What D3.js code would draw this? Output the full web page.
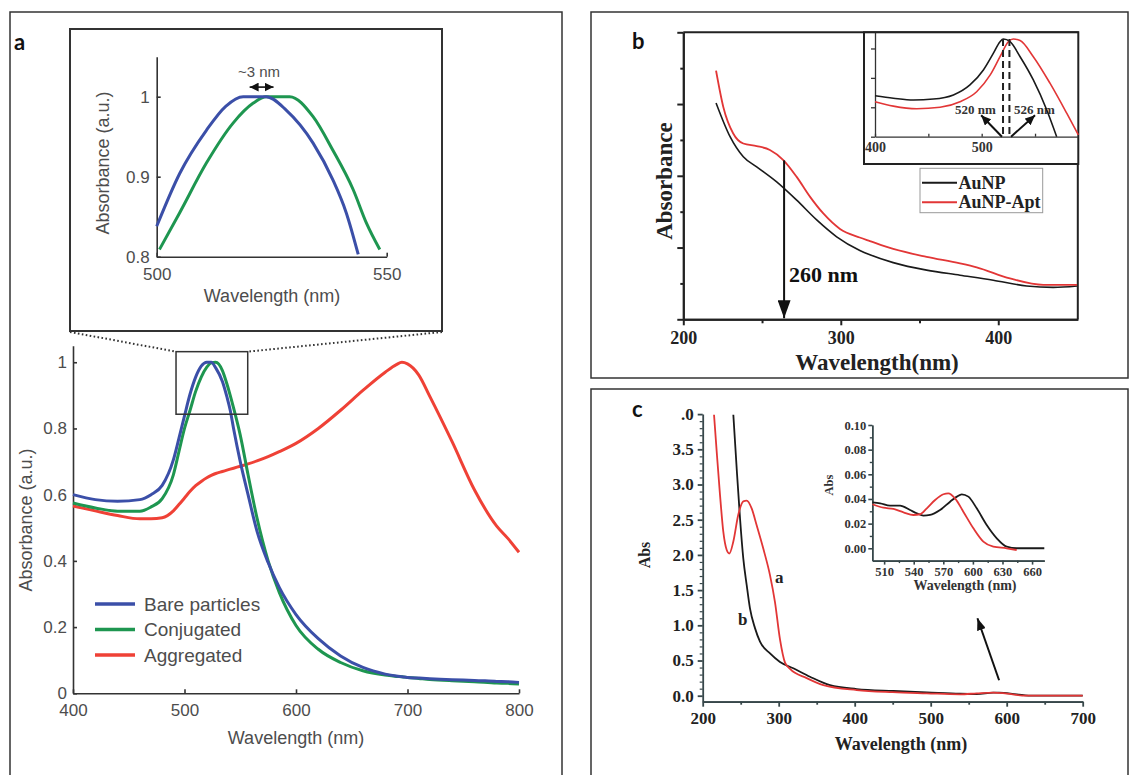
<!DOCTYPE html>
<html>
<head>
<meta charset="utf-8">
<script src="https://cdn.jsdelivr.net/npm/d3@7"></script>
<style>
  body { margin: 0; background: #fff; }
  svg { display: block; }
</style>
</head>
<body>
<svg id="fig" width="1131" height="775"></svg>
<script>
// ---------- panel a: main spectra ----------
var aWavelength = [400, 420, 440, 460, 470, 480, 490, 495, 500, 505, 510, 515, 520, 524, 528, 534, 538, 541, 544, 550,
  557, 565, 575, 585, 600, 620, 640, 660, 680, 690, 695, 700, 710, 720, 740, 760, 780, 790, 800];
var aBare = [0.600, 0.585, 0.580, 0.585, 0.600, 0.628, 0.705, 0.770, 0.838, 0.904, 0.955, 0.988, 1.000, 1.000, 0.983, 0.942, 0.896, 0.855, 0.800, 0.700,
  0.600, 0.490, 0.395, 0.320, 0.238, 0.165, 0.113, 0.078, 0.058, 0.052, 0.050, 0.048, 0.046, 0.044, 0.041, 0.039, 0.036, 0.035, 0.033];
var aConjugated = [0.575, 0.560, 0.550, 0.550, 0.563, 0.588, 0.660, 0.730, 0.800, 0.855, 0.912, 0.955, 0.985, 0.998, 1.000, 0.975, 0.935, 0.900, 0.862, 0.780,
  0.660, 0.530, 0.400, 0.305, 0.205, 0.133, 0.093, 0.068, 0.055, 0.051, 0.050, 0.048, 0.045, 0.042, 0.038, 0.035, 0.031, 0.030, 0.028];
var aAggregated = [0.566, 0.551, 0.537, 0.527, 0.527, 0.530, 0.551, 0.570, 0.590, 0.610, 0.627, 0.640, 0.651, 0.658, 0.664, 0.670, 0.674, 0.677, 0.680, 0.686,
  0.693, 0.702, 0.715, 0.730, 0.755, 0.800, 0.855, 0.915, 0.970, 0.993, 1.000, 0.995, 0.962, 0.897, 0.760, 0.615, 0.505, 0.468, 0.426];
var aLegend = ['Bare particles', 'Conjugated', 'Aggregated'];

// panel a: zoomed inset (500-550 nm)
var aInsetBareWl = [500, 505, 510.8, 515, 518.8, 523.8, 528.2, 534, 538.3, 541.2, 543.8];
var aInsetBare = [0.838, 0.904, 0.958, 0.988, 1.0, 1.0, 0.983, 0.942, 0.896, 0.855, 0.803];
var aInsetConjWl = [500.6, 505, 510.8, 516.6, 521, 523.8, 528.9, 534, 538.3, 542.7, 545.6, 548.5];
var aInsetConj = [0.809, 0.855, 0.917, 0.967, 0.992, 1.0, 1.0, 0.975, 0.933, 0.884, 0.842, 0.809];

// ---------- panel b ----------
var bAuNPWl = [220.8, 229.7, 238.1, 246.6, 259.3, 272, 284.7, 297.4, 312.1, 318.5, 333.3, 354.5, 375.7, 396.8, 418, 434.9, 450];
var bAuNP = [0.603, 0.509, 0.453, 0.425, 0.383, 0.332, 0.277, 0.230, 0.192, 0.180, 0.158, 0.137, 0.123, 0.109, 0.093, 0.089, 0.093];
var bAptWl = [220.8, 225.4, 231.7, 238.1, 246.6, 255, 263.5, 272, 280.4, 288.9, 299.5, 312, 318.5, 333.3, 354.5, 375.7, 386.3, 407.4, 428.6, 450];
var bApt = [0.693, 0.592, 0.518, 0.490, 0.483, 0.472, 0.444, 0.397, 0.342, 0.295, 0.252, 0.228, 0.218, 0.196, 0.174, 0.156, 0.145, 0.114, 0.096, 0.096];
var bLegend = ['AuNP', 'AuNP-Apt'];
// panel b inset
var bInsetAuNPWl = [400, 417.2, 436, 454.7, 473.5, 489, 501.6, 511, 517.2, 520.3, 526.6, 536, 548.4, 561, 570.3];
var bInsetAuNP = [0.139, 0.131, 0.125, 0.128, 0.142, 0.176, 0.227, 0.284, 0.323, 0.332, 0.323, 0.272, 0.193, 0.091, 0.0];
var bInsetAptWl = [400, 417.2, 439.1, 461, 479.7, 495.3, 508, 517.2, 525, 529.6, 536, 548.4, 564, 579.7, 590.6];
var bInsetApt = [0.119, 0.104, 0.095, 0.100, 0.119, 0.153, 0.210, 0.272, 0.323, 0.332, 0.327, 0.272, 0.182, 0.080, 0.006];
var bPeaks = [520, 526];

// ---------- panel c ----------
var cAWl = [214.9, 218.4, 222.8, 227.1, 231.6, 235, 240.3, 246.8, 253.4, 257.9, 264.4, 271, 279.7, 288.6, 295.1, 301.7, 308.3, 314.9,
  336.8, 358.7, 402.6, 450, 494.7, 538.6, 560.5, 582.4, 600, 626.3, 652.6, 700];
var cA = [3.99, 3.47, 2.85, 2.33, 2.07, 2.02, 2.19, 2.57, 2.76, 2.77, 2.66, 2.42, 2.09, 1.71, 1.33, 0.80, 0.47, 0.38,
  0.25, 0.15, 0.08, 0.05, 0.034, 0.02, 0.034, 0.045, 0.03, 0.0, 0.0, 0.0];
var cBWl = [240.3, 244.7, 249.1, 253.4, 257.9, 262.2, 268.8, 275.4, 288.6, 301.7, 319.2, 341.2, 367.5, 402.6, 450.8, 494.7, 538.6, 560.5,
  582.4, 590, 613.2, 635, 700];
var cB = [3.99, 3.23, 2.52, 1.95, 1.57, 1.24, 0.96, 0.77, 0.60, 0.48, 0.39, 0.27, 0.15, 0.095, 0.067, 0.048, 0.028, 0.024,
  0.045, 0.045, 0.02, 0.0, 0.0];
// panel c inset
var cInsetBWl = [498.1, 506, 516, 526.2, 536.3, 543.1, 549.8, 556.6, 566.7, 576.9, 583.7, 588.7, 595.4, 603.9, 614, 624.2, 634.3, 644.4, 672.4];
var cInsetB = [0.0373, 0.0365, 0.0346, 0.0346, 0.0310, 0.0284, 0.0265, 0.0270, 0.0310, 0.0378, 0.0419, 0.0438, 0.0419, 0.0324, 0.0189, 0.0081, 0.0013, 0, 0];
var cInsetAWl = [498.1, 509.3, 519.4, 529.6, 539.7, 546.5, 553.3, 561.7, 570.1, 575.1, 581.9, 590.3, 600.5, 610.6, 620.7, 634.3, 644.4];
var cInsetA = [0.0357, 0.0329, 0.0319, 0.0292, 0.0270, 0.0276, 0.0324, 0.0392, 0.0438, 0.0446, 0.0405, 0.0297, 0.0162, 0.0054, 0.0013, 0, -0.0014];

var SANS = '"Liberation Sans", Arial, sans-serif',
  SERIF = '"Liberation Serif", "Times New Roman", serif',
  LABEL = 'Lato, "Open Sans", sans-serif';

var blue = '#3b4fa8', green = '#1e9650', redA = '#ef4136', redB = '#e23636', black = '#1a1a1a';

var svg = d3.select('#fig');
var defs = svg.append('defs');

function marker(id, len, wid, color) {
  defs.append('marker').attr('id', id)
    .attr('viewBox', '0 0 10 10').attr('refX', 10).attr('refY', 5)
    .attr('markerWidth', len).attr('markerHeight', wid)
    .attr('markerUnits', 'userSpaceOnUse')
    .attr('preserveAspectRatio', 'none')
    .attr('orient', 'auto-start-reverse')
    .append('path').attr('d', 'M0,0 L10,5 L0,10 Z').attr('fill', color);
}
marker('arrA', 9, 9, '#111');
marker('arrB', 18, 13, '#111');
marker('arrBs', 10, 9, '#111');
marker('arrC', 12, 9, '#111');

function series(g, xs, ys, sx, sy, color, width) {
  var pts = xs.map(function (x, i) { return [x, ys[i]]; });
  g.append('path')
    .datum(pts)
    .attr('fill', 'none')
    .attr('stroke', color)
    .attr('stroke-width', width)
    .attr('stroke-linejoin', 'round')
    .attr('d', d3.line()
      .x(function (d) { return sx(d[0]); })
      .y(function (d) { return sy(d[1]); })
      .curve(d3.curveMonotoneX));
}

function styleAxis(g, color, width, family, size, fill, weight) {
  g.attr('font-family', family).attr('font-size', size);
  g.select('.domain').attr('stroke', color).attr('stroke-width', width);
  g.selectAll('.tick line').attr('stroke', color).attr('stroke-width', width);
  g.selectAll('.tick text').attr('fill', fill).attr('font-weight', weight || 'normal');
}

function text(g, x, y, str, opts) {
  var t = g.append('text').attr('x', x).attr('y', y).text(str)
    .attr('font-family', opts.family).attr('font-size', opts.size)
    .attr('fill', opts.fill || '#111')
    .attr('font-weight', opts.weight || 'normal')
    .attr('text-anchor', opts.anchor || 'start');
  if (opts.rotate) t.attr('transform', 'rotate(-90,' + x + ',' + y + ')');
  return t;
}

// ================= PANEL A =================
var pa = svg.append('g');
pa.append('rect').attr('x', 10).attr('y', 12).attr('width', 552).attr('height', 800)
  .attr('fill', 'none').attr('stroke', '#333').attr('stroke-width', 1.5);
text(pa, 14, 50, 'a', { family: LABEL, size: 22, weight: 'bold' });

var ax = d3.scaleLinear().domain([400, 800]).range([73, 519]);
var ay = d3.scaleLinear().domain([0, 1.05]).range([693.3, 345.7]);
var grey = '#4d4d4d';

var axX = pa.append('g').attr('transform', 'translate(0,' + ay(0) + ')')
  .call(d3.axisBottom(ax).tickValues([400, 500, 600, 700, 800]).tickSizeInner(-4).tickSizeOuter(0).tickPadding(11));
styleAxis(axX, '#333', 1.6, SANS, 17, grey);
var axY = pa.append('g').attr('transform', 'translate(' + ax(400) + ',0)')
  .call(d3.axisLeft(ay).tickValues([0, 0.2, 0.4, 0.6, 0.8, 1]).tickFormat(d3.format('~g')).tickSizeInner(-4).tickSizeOuter(0).tickPadding(6));
styleAxis(axY, '#333', 1.6, SANS, 17, grey);
text(pa, 296, 744, 'Wavelength (nm)', { family: SANS, size: 18, fill: grey, anchor: 'middle' });
text(pa, 32, 520, 'Absorbance (a.u.)', { family: SANS, size: 18, fill: grey, anchor: 'middle', rotate: true });

series(pa, aWavelength, aAggregated, ax, ay, redA, 3);
series(pa, aWavelength, aConjugated, ax, ay, green, 3);
series(pa, aWavelength, aBare, ax, ay, blue, 3);

// zoom box + dotted connectors
var box = { x0: 492.4, x1: 556.7, y0: 0.843, y1: 1.032 };
pa.append('rect').attr('x', ax(box.x0)).attr('y', ay(box.y1))
  .attr('width', ax(box.x1) - ax(box.x0)).attr('height', ay(box.y0) - ay(box.y1))
  .attr('fill', 'none').attr('stroke', '#333').attr('stroke-width', 1.5);
[[70, ax(box.x0)], [442, ax(box.x1)]].forEach(function (p) {
  pa.append('line').attr('x1', p[0]).attr('y1', 332).attr('x2', p[1]).attr('y2', ay(box.y1))
    .attr('stroke', '#333').attr('stroke-width', 2).attr('stroke-dasharray', '1.6,2.4');
});

// legend
var legColors = [blue, green, redA];
aLegend.forEach(function (name, i) {
  var y = 604 + i * 25.5;
  pa.append('line').attr('x1', 95).attr('x2', 135).attr('y1', y).attr('y2', y)
    .attr('stroke', legColors[i]).attr('stroke-width', 3.5);
  text(pa, 144, y + 6.5, name, { family: SANS, size: 19, fill: grey });
});

// inset
var ia = svg.append('g');
ia.append('rect').attr('x', 70).attr('y', 29).attr('width', 372).attr('height', 302)
  .attr('fill', '#fff').attr('stroke', '#333').attr('stroke-width', 2);
var ix = d3.scaleLinear().domain([500, 550]).range([156.7, 386.7]);
var iy = d3.scaleLinear().domain([0.8, 1.05]).range([256.7, 56.7]);
var iX = ia.append('g').attr('transform', 'translate(0,' + iy(0.8) + ')')
  .call(d3.axisBottom(ix).tickValues([500, 550]).tickSizeInner(-4).tickSizeOuter(0).tickPadding(11));
styleAxis(iX, '#333', 1.6, SANS, 17, grey);
var iY = ia.append('g').attr('transform', 'translate(' + ix(500) + ',0)')
  .call(d3.axisLeft(iy).tickValues([0.8, 0.9, 1]).tickFormat(d3.format('~g')).tickSizeInner(-4).tickSizeOuter(0).tickPadding(7));
styleAxis(iY, '#333', 1.6, SANS, 17, grey);
text(ia, 272, 302, 'Wavelength (nm)', { family: SANS, size: 18, fill: grey, anchor: 'middle' });
text(ia, 109, 163, 'Absorbance (a.u.)', { family: SANS, size: 18, fill: grey, anchor: 'middle', rotate: true });
series(ia, aInsetConjWl, aInsetConj, ix, iy, green, 3);
series(ia, aInsetBareWl, aInsetBare, ix, iy, blue, 3);
ia.append('line').attr('x1', ix(520.2)).attr('x2', ix(525.4)).attr('y1', iy(1.012)).attr('y2', iy(1.012))
  .attr('stroke', '#111').attr('stroke-width', 1.6)
  .attr('marker-start', 'url(#arrA)').attr('marker-end', 'url(#arrA)');
text(ia, 259, 77, '~3 nm', { family: SANS, size: 15, fill: grey, anchor: 'middle' });

// ================= PANEL B =================
var pb = svg.append('g');
pb.append('rect').attr('x', 591).attr('y', 12).attr('width', 537).attr('height', 366)
  .attr('fill', 'none').attr('stroke', '#333').attr('stroke-width', 1.5);
text(pb, 632, 49, 'b', { family: LABEL, size: 22, weight: 'bold' });

var bx = d3.scaleLinear().domain([200, 450.5]).range([683.3, 1077.8]);
var by = d3.scaleLinear().domain([0, 0.8]).range([319.3, 32.3]);
var bXa = pb.append('g').attr('transform', 'translate(0,' + by(0) + ')')
  .call(d3.axisBottom(bx).tickValues([200, 300, 400]).tickSizeInner(6).tickSizeOuter(0).tickPadding(6));
styleAxis(bXa, '#222', 2, SERIF, 18, '#222', 'bold');
var bXm = pb.append('g').attr('transform', 'translate(0,' + by(0) + ')')
  .call(d3.axisBottom(bx).tickValues([250, 350]).tickSizeInner(4).tickSizeOuter(0).tickFormat(''));
styleAxis(bXm, '#222', 2, SERIF, 18, '#222');
var bYa = pb.append('g').attr('transform', 'translate(' + bx(200) + ',0)')
  .call(d3.axisLeft(by).tickValues([0, 0.2, 0.4, 0.6, 0.8]).tickSizeInner(6).tickSizeOuter(0).tickFormat(''));
styleAxis(bYa, '#222', 2, SERIF, 18, '#222');
var bYm = pb.append('g').attr('transform', 'translate(' + bx(200) + ',0)')
  .call(d3.axisLeft(by).tickValues([0.1, 0.3, 0.5, 0.7]).tickSizeInner(3).tickSizeOuter(0).tickFormat(''));
styleAxis(bYm, '#222', 2, SERIF, 18, '#222');
// top and right frame
pb.append('path').attr('d', 'M' + bx(200) + ',' + by(0.8) + 'H' + bx(450.5) + 'V' + by(0))
  .attr('fill', 'none').attr('stroke', '#222').attr('stroke-width', 2);
text(pb, 877, 370, 'Wavelength(nm)', { family: SERIF, size: 23, weight: 'bold', fill: '#222', anchor: 'middle' });
text(pb, 671.5, 181, 'Absorbance', { family: SERIF, size: 23, weight: 'bold', fill: '#222', anchor: 'middle', rotate: true });

series(pb, bAuNPWl, bAuNP, bx, by, black, 1.6);
series(pb, bAptWl, bApt, bx, by, redB, 1.8);

// 260 nm arrow
var arrowWl = 264;
pb.append('line').attr('x1', bx(arrowWl)).attr('x2', bx(arrowWl)).attr('y1', by(0.443)).attr('y2', by(0.003))
  .attr('stroke', '#111').attr('stroke-width', 2).attr('marker-end', 'url(#arrB)');
text(pb, 789, 282, '260 nm', { family: SERIF, size: 22, weight: 'bold', fill: '#111' });

// inset b
var ib = svg.append('g');
ib.append('rect').attr('x', 864).attr('y', 32.3).attr('width', 214.3).attr('height', 131.7)
  .attr('fill', '#fff').attr('stroke', '#222').attr('stroke-width', 2);
var bix = d3.scaleLinear().domain([400, 590]).range([875, 1077.7]);
var biy = d3.scaleLinear().domain([0, 0.355]).range([136.7, 32.3]);
var biX = ib.append('g').attr('transform', 'translate(0,' + biy(0) + ')')
  .call(d3.axisBottom(bix).tickValues([400, 450, 500, 550]).tickFormat(function (d) { return d % 100 === 0 ? d : ''; })
    .tickSizeInner(-3).tickSizeOuter(0).tickPadding(5));
styleAxis(biX, '#333', 1.3, SERIF, 14, '#333', 'bold');
var biY = ib.append('g').attr('transform', 'translate(' + bix(400) + ',0)')
  .call(d3.axisLeft(biy).tickValues([0, 0.1, 0.2, 0.3]).tickFormat('').tickSizeInner(4).tickSizeOuter(0));
styleAxis(biY, '#333', 1.3, SERIF, 14, '#333');
text(ib, 955, 113.5, '520 nm', { family: SERIF, size: 13, weight: 'bold', fill: '#333' });
text(ib, 1014, 113.5, '526 nm', { family: SERIF, size: 13, weight: 'bold', fill: '#333' });
series(ib, bInsetAuNPWl, bInsetAuNP, bix, biy, black, 1.6);
series(ib, bInsetAptWl, bInsetApt, bix, biy, redB, 1.6);
bPeaks.forEach(function (p) {
  ib.append('line').attr('x1', bix(p)).attr('x2', bix(p)).attr('y1', biy(0.332)).attr('y2', biy(0))
    .attr('stroke', '#222').attr('stroke-width', 2).attr('stroke-dasharray', '7,4');
});
ib.append('line').attr('x1', bix(519)).attr('y1', biy(0)).attr('x2', bix(499.5)).attr('y2', biy(0.073))
  .attr('stroke', '#111').attr('stroke-width', 2).attr('marker-end', 'url(#arrBs)');
ib.append('line').attr('x1', bix(527.5)).attr('y1', biy(0)).attr('x2', bix(550)).attr('y2', biy(0.073))
  .attr('stroke', '#111').attr('stroke-width', 2).attr('marker-end', 'url(#arrBs)');

// legend b
var lg = svg.append('g');
lg.append('rect').attr('x', 920).attr('y', 168.3).attr('width', 122.7).attr('height', 44.4)
  .attr('fill', '#fff').attr('stroke', '#999').attr('stroke-width', 1);
[black, redB].forEach(function (c, i) {
  var y = 182.7 + i * 19.6;
  lg.append('line').attr('x1', 922).attr('x2', 957).attr('y1', y).attr('y2', y)
    .attr('stroke', c).attr('stroke-width', 2);
  text(lg, 958.5, y + 6, bLegend[i], { family: SERIF, size: 18, weight: 'bold', fill: '#222' });
});

// ================= PANEL C =================
var pc = svg.append('g');
pc.append('rect').attr('x', 591).attr('y', 389).attr('width', 537).attr('height', 420)
  .attr('fill', 'none').attr('stroke', '#333').attr('stroke-width', 1.5);
text(pc, 632, 417, 'c', { family: LABEL, size: 22, weight: 'bold' });

var cx = d3.scaleLinear().domain([200, 700]).range([702.7, 1082.7]);
var cy = d3.scaleLinear().domain([-0.085, 4]).range([701.7, 414.1]);
var axisC = '#37474a';
var cXa = pc.append('g').attr('transform', 'translate(0,' + cy(-0.085) + ')')
  .call(d3.axisBottom(cx).tickValues([200, 300, 400, 500, 600, 700]).tickSizeInner(5).tickSizeOuter(0).tickPadding(5));
styleAxis(cXa, axisC, 1.8, SERIF, 17, '#222', 'bold');
var cXm = pc.append('g').attr('transform', 'translate(0,' + cy(-0.085) + ')')
  .call(d3.axisBottom(cx).tickValues([250, 350, 450, 550, 650]).tickSizeInner(3).tickSizeOuter(0).tickFormat(''));
styleAxis(cXm, axisC, 1.8, SERIF, 17, '#222');
var cYa = pc.append('g').attr('transform', 'translate(' + cx(200) + ',0)')
  .call(d3.axisLeft(cy).tickValues(d3.range(0, 4.01, 0.5))
    .tickFormat(function (d) { return d === 4 ? '.0' : d3.format('.1f')(d); })
    .tickSizeInner(5).tickSizeOuter(0).tickPadding(4));
styleAxis(cYa, axisC, 1.8, SERIF, 17, '#222', 'bold');
var cYm = pc.append('g').attr('transform', 'translate(' + cx(200) + ',0)')
  .call(d3.axisLeft(cy).tickValues(d3.range(0, 4.01, 0.1).filter(function (v) { return Math.abs(v * 2 - Math.round(v * 2)) > 0.01; }))
    .tickSizeInner(3).tickSizeOuter(0).tickFormat(''));
styleAxis(cYm, axisC, 1.2, SERIF, 17, '#222');
cYm.select('.domain').remove();
text(pc, 901, 750, 'Wavelength (nm)', { family: SERIF, size: 18, weight: 'bold', fill: '#222', anchor: 'middle' });
text(pc, 650, 555, 'Abs', { family: SERIF, size: 16, weight: 'bold', fill: '#222', anchor: 'middle', rotate: true });

series(pc, cBWl, cB, cx, cy, black, 1.8);
series(pc, cAWl, cA, cx, cy, redB, 1.8);
text(pc, 775, 583, 'a', { family: SERIF, size: 17, weight: 'bold', fill: '#222' });
text(pc, 738, 625, 'b', { family: SERIF, size: 17, weight: 'bold', fill: '#222' });
pc.append('line').attr('x1', cx(590)).attr('y1', cy(0.22)).attr('x2', cx(561.5)).attr('y2', cy(1.1))
  .attr('stroke', '#111').attr('stroke-width', 2).attr('marker-end', 'url(#arrC)');

// inset c
var ic = svg.append('g');
var cix = d3.scaleLinear().domain([498, 672.4]).range([872.3, 1044.3]);
var ciy = d3.scaleLinear().domain([-0.01, 0.10]).range([560.6, 425]);
var ciXa = ic.append('g').attr('transform', 'translate(0,' + ciy(-0.01) + ')')
  .call(d3.axisBottom(cix).tickValues([510, 540, 570, 600, 630, 660]).tickSizeInner(4).tickSizeOuter(0).tickPadding(3));
styleAxis(ciXa, axisC, 1.6, SERIF, 12.5, '#333', 'bold');
var ciXm = ic.append('g').attr('transform', 'translate(0,' + ciy(-0.01) + ')')
  .call(d3.axisBottom(cix).tickValues([525, 555, 585, 615, 645]).tickSizeInner(2.5).tickSizeOuter(0).tickFormat(''));
styleAxis(ciXm, axisC, 1.4, SERIF, 12.5, '#333');
var ciYa = ic.append('g').attr('transform', 'translate(' + cix(498) + ',0)')
  .call(d3.axisLeft(ciy).tickValues([0, 0.02, 0.04, 0.06, 0.08, 0.10]).tickFormat(d3.format('.2f'))
    .tickSizeInner(4).tickSizeOuter(0).tickPadding(2));
styleAxis(ciYa, axisC, 1.6, SERIF, 12.5, '#333', 'bold');
var ciYm = ic.append('g').attr('transform', 'translate(' + cix(498) + ',0)')
  .call(d3.axisLeft(ciy).tickValues([0.01, 0.03, 0.05, 0.07, 0.09]).tickSizeInner(2.5).tickSizeOuter(0).tickFormat(''));
styleAxis(ciYm, axisC, 1.4, SERIF, 12.5, '#333');
text(ic, 965, 590, 'Wavelength (nm)', { family: SERIF, size: 14, weight: 'bold', fill: '#333', anchor: 'middle' });
text(ic, 833, 485, 'Abs', { family: SERIF, size: 12.5, weight: 'bold', fill: '#333', anchor: 'middle', rotate: true });
series(ic, cInsetBWl, cInsetB, cix, ciy, black, 1.8);
series(ic, cInsetAWl, cInsetA, cix, ciy, redB, 1.8);
</script>
</body>
</html>
